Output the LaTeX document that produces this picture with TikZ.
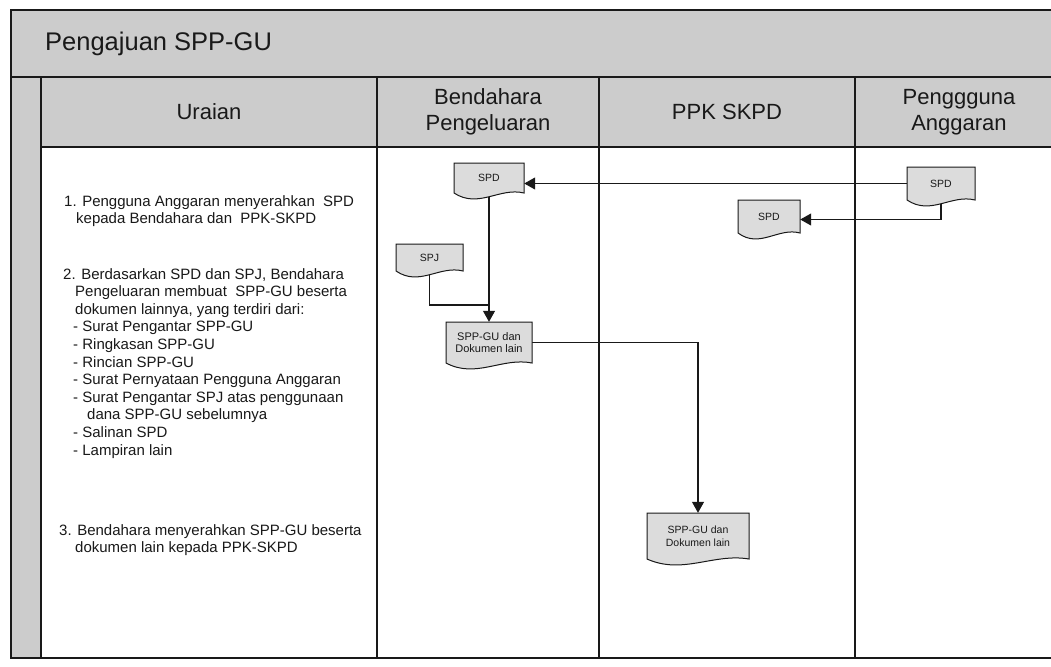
\documentclass[tikz,border=0pt]{standalone}
\usepackage{fontspec}
\setmainfont{Liberation Sans}
\usetikzlibrary{arrows.meta,calc}

\definecolor{bandgray}{RGB}{204,204,204}
\definecolor{docgray}{RGB}{220,220,220}
\definecolor{ink}{RGB}{25,25,25}

\pgfdeclarelayer{backdrop}
\pgfdeclarelayer{wires}
\pgfsetlayers{backdrop,wires,main}

% A flowchart "document" sheet: the shape is drawn from its straight part
% (left, top, width, height to the left corner) and a named node holds the text.
% #1 name, #2 left, #3 top, #4 width, #5 height, #6 font size, #7 text
\newcommand{\docsheet}[7]{%
  \filldraw[sheet] (#2,#3) -- ++(#4,0) -- ++(0,#5)
    .. controls +(-0.35*#4,-6) and +(0.35*#4,16) .. (#2,#3+#5) -- cycle;
  \node[sheetlabel, minimum width=#4pt, minimum height=#5pt,
        font=\fontsize{#6}{12.5}\selectfont] (#1) at (#2+#4/2,#3+#5/2) {#7};}

\tikzset{
  rule/.style={draw=ink, line width=1.3pt},
  sheet/.style={fill=docgray, draw=ink, line width=1pt},
  sheetlabel/.style={inner sep=0pt, align=center, text=ink},
  headtext/.style={font=\fontsize{22}{26.5}\selectfont, align=center, text=ink},
  bodytext/.style={font=\fontsize{15}{17.6}\selectfont, align=left, anchor=north west,
                   inner sep=0pt, text=ink},
  wire/.style={draw=ink, line width=1.1pt},
  flow/.style={wire, -{Triangle[length=11pt,width=12pt]}},
}

\begin{document}
\begin{tikzpicture}[x=1pt,y=-1pt]
\useasboundingbox (0,0) rectangle (1051,666);

% frame, title band, header row and side strip
\begin{pgfonlayer}{backdrop}
  \fill[white] (0,0) rectangle (1051,666);
  \fill[bandgray] (11,10) rectangle (1051,77);
  \fill[bandgray] (41,77) rectangle (1051,147);
  \fill[bandgray] (11,77) rectangle (41,658);
  \draw[rule] (1051,10) -- (11,10) -- (11,658) -- (1051,658);
  \draw[rule, line width=1.9pt] (11,77) -- (1051,77);
  \draw[rule, line width=1.6pt] (41,147) -- (1051,147);
  \draw[rule] (41,77) -- (41,658);
  \foreach \x in {377,599,855} \draw[rule] (\x,77) -- (\x,658);
\end{pgfonlayer}

% title and column headings
\node[anchor=base west, inner sep=0pt, font=\fontsize{25.5}{30}\selectfont, text=ink]
  (title) at (45,51) {Pengajuan SPP-GU};
\node[headtext] (hUraian) at (209,112) {Uraian};
\node[headtext] (hBendahara) at (488,112) {Bendahara\\Pengeluaran};
\node[headtext] (hPPK) at (727,112) {PPK SKPD};
\node[headtext] (hPengguna) at (959,112) {Penggguna\\Anggaran};

% steps
\node[bodytext] (step1) at (64,195) {1. Pengguna Anggaran menyerahkan\ \ SPD\\
  \hspace*{12pt}kepada Bendahara dan\ \ PPK-SKPD};
\node[bodytext] (step2) at (63,268) {2. Berdasarkan SPD dan SPJ, Bendahara\\
  \hspace*{12pt}Pengeluaran membuat\ \ SPP-GU beserta\\
  \hspace*{12pt}dokumen lainnya, yang terdiri dari:\\
  \hspace*{10pt}- Surat Pengantar SPP-GU\\
  \hspace*{10pt}- Ringkasan SPP-GU\\
  \hspace*{10pt}- Rincian SPP-GU\\
  \hspace*{10pt}- Surat Pernyataan Pengguna Anggaran\\
  \hspace*{10pt}- Surat Pengantar SPJ atas penggunaan\\
  \hspace*{24pt}dana SPP-GU sebelumnya\\
  \hspace*{10pt}- Salinan SPD\\
  \hspace*{10pt}- Lampiran lain};
\node[bodytext] (step3) at (59,524) {3. Bendahara menyerahkan SPP-GU beserta\\
  \hspace*{16pt}dokumen lain kepada PPK-SKPD};

% documents
\docsheet{spdB}{454}{163}{70}{30}{10.5}{SPD}
\docsheet{spj}{396}{244}{67}{27}{10.5}{SPJ}
\docsheet{sppB}{446}{322}{86}{41}{11}{SPP-GU dan\\Dokumen lain}
\docsheet{spdK}{738}{200}{62}{33}{10.5}{SPD}
\docsheet{spdP}{907}{167}{68}{33}{10.5}{SPD}
\docsheet{sppK}{647}{513}{102}{46}{10.5}{SPP-GU dan\\Dokumen lain}

\coordinate (join) at (489,305);

% connectors
\begin{pgfonlayer}{wires}
  \draw[flow] (spdP.west) -- (spdP.west -| spdB.east);
  \draw[flow] (spdP.south) |- ($(spdK.east)+(0,3)$);
  \draw[wire] (spj.south) |- (join);
  \draw[flow] (spdB.south) -- (sppB.north);
  \draw[flow] (sppB.east) -| (sppK.north);
\end{pgfonlayer}
\end{tikzpicture}
\end{document}
